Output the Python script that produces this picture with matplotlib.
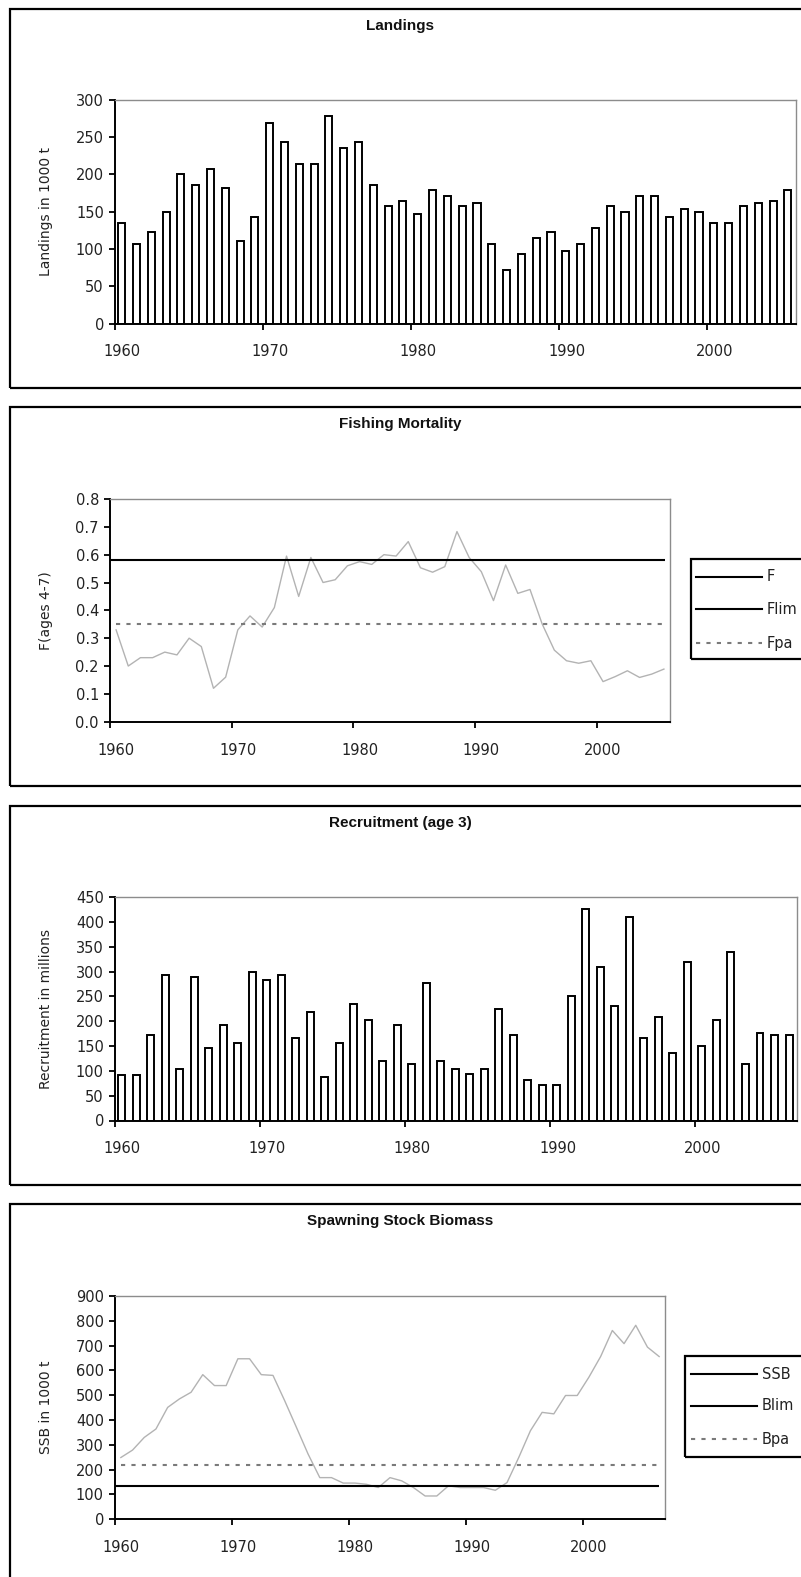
import numpy as np
import matplotlib
matplotlib.use("Agg")
import matplotlib.pyplot as plt
from matplotlib.patches import Rectangle
from matplotlib.lines import Line2D

plt.rcParams['font.family'] = ['DejaVu Sans']

# ---- data ----
years_land = np.arange(1960, 2006)
landings = [135, 107, 122, 150, 200, 185, 207, 182, 111, 143,
            268, 243, 214, 214, 278, 235, 243, 185, 157, 164,
            146, 179, 171, 157, 161, 107, 71, 93, 114, 122,
            97, 107, 128, 157, 150, 171, 171, 143, 153, 150,
            135, 135, 157, 161, 164, 179]

years_f = np.arange(1960, 2006)
f_values = [0.33, 0.20, 0.23, 0.23, 0.25, 0.24, 0.30, 0.27, 0.12, 0.16,
            0.33, 0.38, 0.34, 0.41, 0.595, 0.45, 0.59, 0.50, 0.51, 0.56,
            0.575, 0.565, 0.60, 0.595, 0.647, 0.553, 0.537, 0.557, 0.683, 0.59,
            0.539, 0.435, 0.563, 0.461, 0.475, 0.351, 0.257, 0.219, 0.21, 0.219,
            0.144, 0.162, 0.183, 0.159, 0.171, 0.189]
flim = 0.58
fpa = 0.35

years_rec = np.arange(1960, 2007)
recruitment = [92, 92, 172, 293, 104, 288, 146, 193, 156, 298,
               283, 293, 167, 219, 87, 156, 235, 203, 119, 193,
               114, 277, 119, 104, 93, 104, 225, 172, 82, 71,
               71, 251, 425, 309, 230, 409, 166, 209, 135, 319,
               150, 203, 340, 114, 177, 172, 172]

years_ssb = np.arange(1960, 2007)
ssb = [249, 279, 330, 364, 451, 485, 512, 583, 539, 539,
       647, 647, 583, 580, 478, 371, 263, 168, 168, 146,
       146, 141, 128, 168, 155, 128, 94, 94, 135, 128,
       128, 128, 117, 148, 249, 357, 431, 425, 499, 499,
       573, 656, 761, 708, 782, 694, 656]
blim = 136
bpa = 220

decade_labels = ['1960', '1970', '1980', '1990', '2000']

W, H = 801, 1577
fig = plt.figure(figsize=(W / 100, H / 100), dpi=100, facecolor='white')


def add_ax(l, t, r, b):
    return fig.add_axes([l / W, 1 - b / H, (r - l) / W, (b - t) / H])


def fx(px):
    return px / W


def fy(py):
    return 1 - py / H


grey_line = '#b3b3b3'
tick_col = '#222222'
fs = 10.5

# panel frames + titles
panel_tops = [9, 407, 806, 1204]
titles = ['Landings', 'Fishing Mortality', 'Recruitment (age 3)', 'Spawning Stock Biomass']
for top, title in zip(panel_tops, titles):
    fig.add_artist(Rectangle((fx(9.5), fy(top + 379)), fx(830 - 9.5), 379 / H,
                             transform=fig.transFigure, fill=False, lw=1.6, ec='black'))
    fig.text(fx(400), fy(top + 17), title, ha='center', va='center',
             fontsize=11, fontweight='bold', color='#111111',
             family=['Liberation Sans', 'DejaVu Sans'])


def style(ax, xmax, ymax, ystep, fmt, ylabel):
    ax.set_xlim(1960, xmax)
    ax.set_ylim(0, ymax)
    for s in ['left', 'bottom']:
        ax.spines[s].set_color('black')
        ax.spines[s].set_linewidth(1.4)
    for s in ['top', 'right']:
        ax.spines[s].set_color('#8c8c8c')
        ax.spines[s].set_linewidth(1.0)
    ax.set_xticks(np.arange(1960, 2001, 10))
    ax.set_xticklabels([])
    ax.set_xticks(np.arange(1960, 2001, 10) + 0.5, minor=True)
    ax.set_xticklabels(decade_labels, minor=True)
    ax.tick_params(axis='x', which='major', length=4, width=1.3, direction='out', color='black')
    ax.tick_params(axis='x', which='minor', length=0, pad=15, labelsize=fs, labelcolor=tick_col)
    yt = np.arange(0, ymax + ystep / 2, ystep)
    ax.set_yticks(yt)
    ax.set_yticklabels([fmt.format(v) for v in yt])
    ax.tick_params(axis='y', length=4, width=1.3, direction='out', pad=4,
                   labelsize=fs, labelcolor=tick_col)
    ax.set_ylabel(ylabel, fontsize=10, color='#222222', va='center')
    bb = ax.get_position()
    ax.yaxis.set_label_coords((fx(46) - bb.x0) / bb.width, 0.5)


def legend(box_l, box_t, box_b, entries, ys, x0, x1, xt):
    fig.add_artist(Rectangle((fx(box_l), fy(box_b)), fx(830 - box_l), (box_b - box_t) / H,
                             transform=fig.transFigure, fill=False, lw=1.6, ec='black'))
    for (label, kw), y in zip(entries, ys):
        fig.add_artist(Line2D([fx(x0), fx(x1)], [fy(y), fy(y)], transform=fig.transFigure, **kw))
        fig.text(fx(xt), fy(y), label, ha='left', va='center', fontsize=fs, color='#222222')


solid = dict(color='black', lw=1.5)
dotted = dict(color='#7a7a7a', lw=1.5, linestyle=(0, (2, 3)))

# ---- Landings ----
ax1 = add_ax(115, 99.5, 796, 323.5)
ax1.bar(years_land + 0.45, landings, width=0.48, color='white', edgecolor='black', linewidth=1.4)
style(ax1, 2006, 300, 50, '{:.0f}', 'Landings in 1000 t')

# ---- Fishing mortality ----
ax2 = add_ax(110, 499, 670, 721.7)
ax2.plot(years_f + 0.5, f_values, color=grey_line, lw=1.0)
ax2.hlines(flim, 1960, years_f[-1] + 0.6, color='black', lw=1.5)
ax2.hlines(fpa, 1960.5, years_f[-1] + 0.6, color='#7a7a7a', lw=1.5, linestyle=(0, (2, 3)))
style(ax2, 2006, 0.8, 0.1, '{:.1f}', 'F(ages 4-7)')
legend(691, 559, 659, [('F', solid), ('Flim', solid), ('Fpa', dotted)],
       [576.7, 609.3, 643.3], 696, 762, 767)

# ---- Recruitment ----
ax3 = add_ax(115, 897, 797, 1120.5)
ax3.bar(years_rec + 0.45, recruitment, width=0.48, color='white', edgecolor='black', linewidth=1.4)
style(ax3, 2007, 450, 50, '{:.0f}', 'Recruitment in millions')

# ---- SSB ----
ax4 = add_ax(115, 1296, 665, 1519.3)
ax4.plot(years_ssb + 0.5, ssb, color=grey_line, lw=1.0)
ax4.hlines(blim, 1960, years_ssb[-1] + 0.5, color='black', lw=1.5)
ax4.hlines(bpa, 1960.5, years_ssb[-1] + 0.5, color='#7a7a7a', lw=1.5, linestyle=(0, (2, 3)))
style(ax4, 2007, 900, 100, '{:.0f}', 'SSB in 1000 t')
legend(685, 1356, 1456.7, [('SSB', solid), ('Blim', solid), ('Bpa', dotted)],
       [1374.3, 1406, 1439.3], 691, 757, 762)

fig.savefig('out.png', dpi=100, facecolor='white')
